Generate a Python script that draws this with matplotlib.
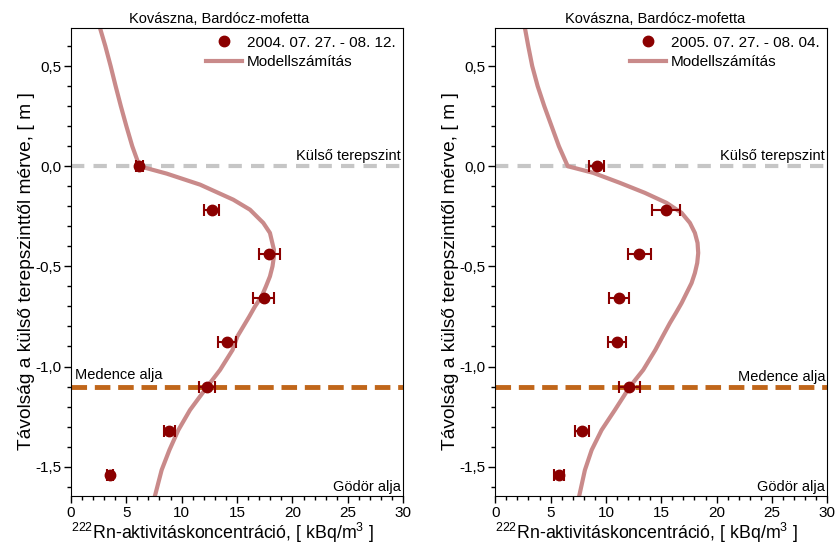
import numpy as np
import matplotlib
matplotlib.use('Agg')
import matplotlib.pyplot as plt
from matplotlib.ticker import MultipleLocator, FuncFormatter

plt.rcParams['font.family'] = ['Liberation Sans', 'DejaVu Sans']
plt.rcParams['mathtext.fontset'] = 'custom'
plt.rcParams['mathtext.rm'] = 'Liberation Sans'
plt.rcParams['mathtext.it'] = 'Liberation Sans:italic'

# mélység (m) - mérési pontok
depth = [0.0, -0.22, -0.44, -0.66, -0.88, -1.10, -1.32, -1.54]

# 2004. 07. 27. - 08. 12.
conc_2004 = [6.2, 12.7, 17.9, 17.4, 14.1, 12.3, 8.9, 3.55]
err_2004 = [0.35, 0.7, 0.95, 0.95, 0.8, 0.7, 0.5, 0.3]
# modell 2004
model_y_2004 = [0.69, 0.6, 0.5, 0.4, 0.3, 0.2, 0.1, 0.0, -0.037, -0.092, -0.167,
                -0.217, -0.283, -0.333, -0.417, -0.45, -0.50, -0.55, -0.60, -0.65,
                -0.70, -0.75, -0.80, -0.85, -0.917, -1.017, -1.10, -1.217, -1.317,
                -1.417, -1.517, -1.645]
model_x_2004 = [2.64, 3.12, 3.6, 4.05, 4.52, 5.02, 5.55, 6.2, 8.66, 11.67, 14.66,
                16.17, 17.37, 17.97, 18.33, 18.33, 18.2, 17.97, 17.61, 17.22,
                16.62, 16.11, 15.57, 15.03, 14.6, 13.47, 12.32, 10.76, 9.71,
                8.9, 8.2, 7.6]

# 2005. 07. 27. - 08. 04.
conc_2005 = [9.16, 15.4, 13.0, 11.17, 11.0, 12.1, 7.86, 5.75]
err_2005 = [0.7, 1.25, 1.05, 0.9, 0.85, 0.95, 0.65, 0.45]
# modell 2005
model_y_2005 = [0.69, 0.6, 0.5, 0.4, 0.3, 0.2, 0.1, 0.0, -0.033, -0.083, -0.133,
                -0.183, -0.233, -0.283, -0.333, -0.383, -0.433, -0.483, -0.533,
                -0.583, -0.633, -0.683, -0.733, -0.783, -0.85, -0.917, -1.017,
                -1.10, -1.217, -1.317, -1.417, -1.517, -1.645]
model_x_2005 = [2.68, 2.98, 3.34, 3.83, 4.43, 5.09, 5.75, 6.55, 8.85, 11.26, 13.52,
                15.48, 16.84, 17.59, 18.04, 18.28, 18.34, 18.25, 18.04,
                17.74, 17.29, 16.84, 16.32, 15.78, 15.12, 14.47, 13.37,
                12.17, 10.81, 9.61, 8.71, 8.1, 7.59]

labels = ['2004. 07. 27. - 08. 12.', '2005. 07. 27. - 08. 04.']

fig = plt.figure(figsize=(8.39, 5.43), dpi=100)
ax1 = fig.add_axes([0.0843, 0.0871, 0.3964, 0.8613])
ax2 = fig.add_axes([0.5903, 0.0871, 0.3957, 0.8613])

comma = FuncFormatter(lambda v, p: ('%.1f' % v).replace('.', ','))

panels = [(ax1, conc_2004, err_2004, model_x_2004, model_y_2004, labels[0], 0.446, 'left'),
          (ax2, conc_2005, err_2005, model_x_2005, model_y_2005, labels[1], 0.483, 'right')]

for ax, c, e, mx, my, lab, tx, side in panels:
    ax.axhline(0.0, color='#c6c6c6', lw=3, dashes=(3.2, 2.2), zorder=1)
    ax.axhline(-1.1, color='#c0661a', lw=3.5, dashes=(3.2, 1.6), zorder=1)
    ax.plot(mx, my, color='#c98a8a', lw=3, zorder=2, label='Modellszámítás')
    ax.errorbar(c, depth, xerr=e, fmt='none', ecolor='#8b0000', elinewidth=1.5,
                capsize=4, capthick=1.5, zorder=3)
    ax.plot(c, depth, 'o', color='#8b0000', ms=7.5, zorder=4, label=lab, ls='none')

    ax.set_xlim(0, 30)
    ax.set_ylim(-1.645, 0.69)
    ax.xaxis.set_major_locator(MultipleLocator(5))
    ax.xaxis.set_minor_locator(MultipleLocator(1))
    ax.yaxis.set_major_locator(MultipleLocator(0.5))
    ax.yaxis.set_minor_locator(MultipleLocator(0.1))
    ax.yaxis.set_major_formatter(comma)
    ax.tick_params(which='major', direction='out', length=5, width=1, labelsize=11)
    ax.tick_params(which='minor', direction='out', length=3, width=1)
    ax.tick_params(axis='y', pad=2)
    ax.tick_params(axis='x', pad=2.5)

    ax.set_xlabel('$^{222}$Rn-aktivitáskoncentráció, [ kBq/m$^{3}$ ]', fontsize=12.8)
    ax.xaxis.set_label_coords(0.455, -0.053)
    ax.set_ylabel('Távolság a külső terepszinttől mérve, [ m ]', fontsize=13.8)
    ax.yaxis.set_label_coords(-0.108, 0.48)

    ax.text(tx, 1.02, 'Kovászna, Bardócz-mofetta', transform=ax.transAxes,
            ha='center', va='center', fontsize=10.5)
    ax.text(29.8, 0.05, 'Külső terepszint', ha='right', va='center', fontsize=10.5)
    if side == 'left':
        ax.text(0.35, -1.04, 'Medence alja', ha='left', va='center', fontsize=10.5)
    else:
        ax.text(29.8, -1.05, 'Medence alja', ha='right', va='center', fontsize=10.5)
    ax.text(29.8, -1.6, 'Gödör alja', ha='right', va='center', fontsize=10.5)

    h, l = ax.get_legend_handles_labels()
    ax.legend(h[::-1], l[::-1], loc='upper right', frameon=False, fontsize=11,
              handlelength=2.4, handletextpad=0.3, labelspacing=0.35,
              borderaxespad=0.3, borderpad=0.2)

fig.savefig('out.png', dpi=100)
